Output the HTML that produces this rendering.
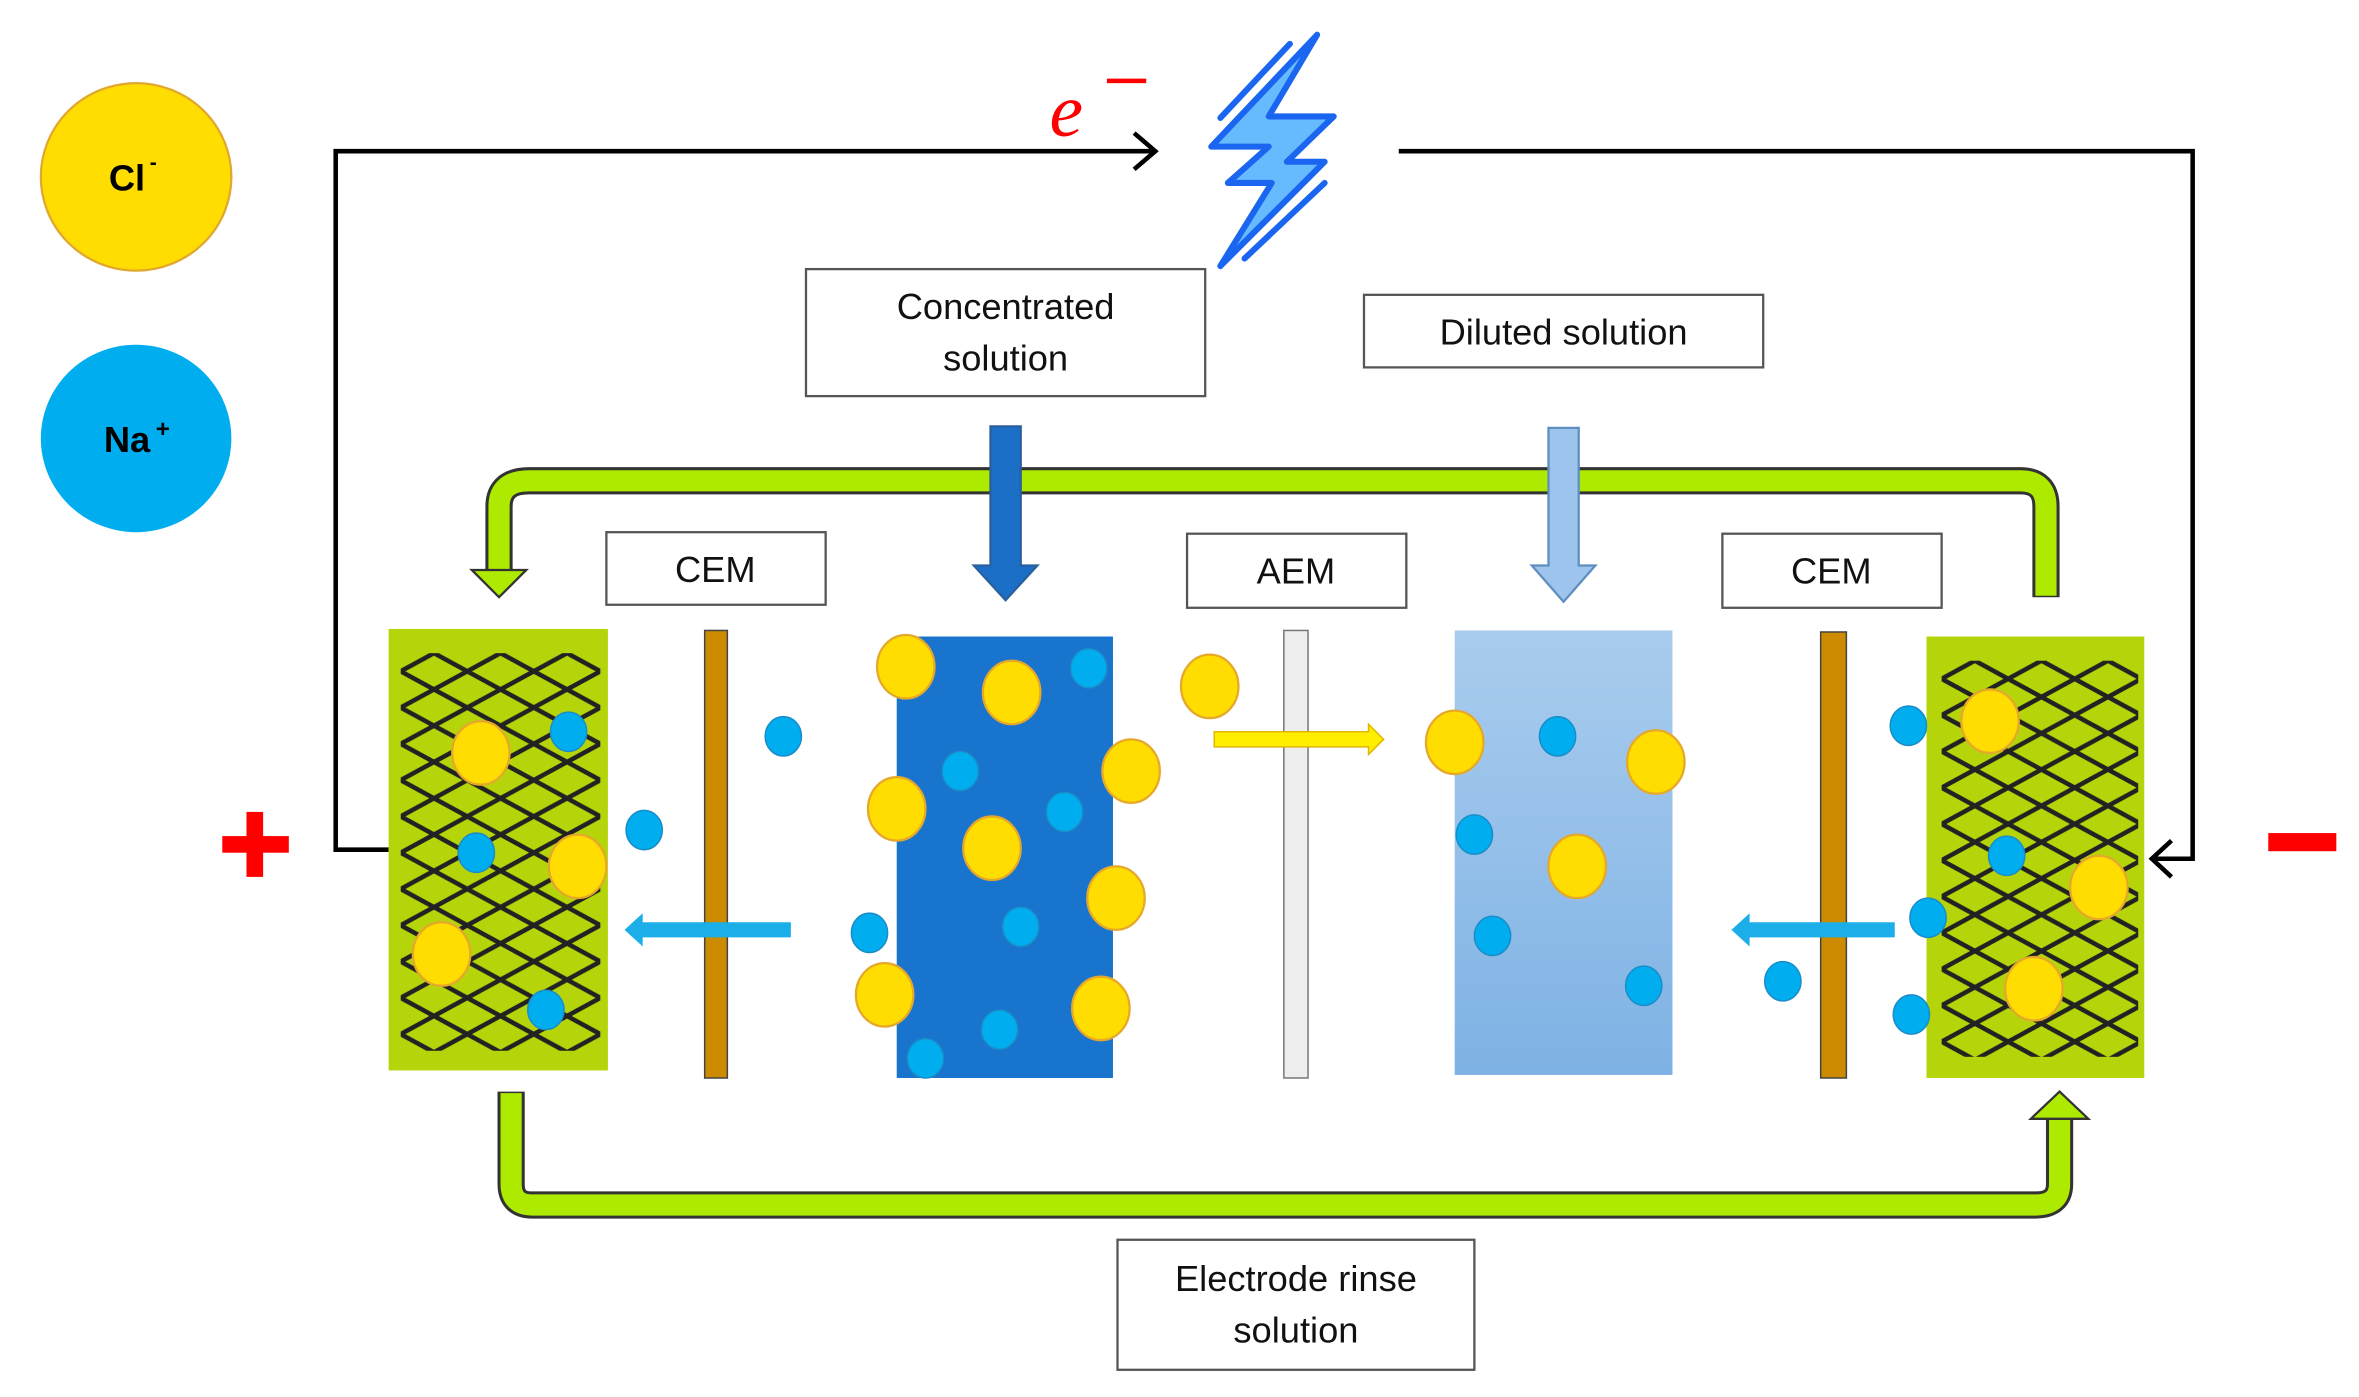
<!DOCTYPE html>
<html><head><style>html,body{margin:0;padding:0;background:#fff}svg{display:block}</style></head>
<body>
<svg width="2359" height="1397" viewBox="0 0 1560 924" preserveAspectRatio="none" xmlns="http://www.w3.org/2000/svg" font-family="Liberation Sans, sans-serif">
<defs>
<pattern id="mesh" x="265" y="432" width="44" height="24" patternUnits="userSpaceOnUse">
<path d="M0,12 L22,0 L44,12 L22,24 Z M0,12 L-22,0 M44,12 L66,0" fill="none" stroke="#222" stroke-width="3"/>
</pattern>
<pattern id="mesh2" x="1284" y="437" width="44" height="24" patternUnits="userSpaceOnUse">
<path d="M0,12 L22,0 L44,12 L22,24 Z" fill="none" stroke="#222" stroke-width="3"/>
</pattern>
<linearGradient id="lb" x1="0" y1="0" x2="0" y2="1"><stop offset="0" stop-color="#A9CCEE"/><stop offset="1" stop-color="#7EB2E4"/></linearGradient>
</defs>
<rect width="1560" height="924" fill="#fff"/>
<ellipse cx="90" cy="117" rx="63" ry="62" fill="#FFDD00" stroke="#E0A82E" stroke-width="1.5"/>
<text x="84" y="126" font-size="24" font-weight="bold" text-anchor="middle">Cl</text><text x="99" y="112" font-size="14" font-weight="bold">-</text>
<ellipse cx="90" cy="290" rx="63" ry="62" fill="#00AEEF"/>
<text x="84" y="299" font-size="24" font-weight="bold" text-anchor="middle">Na</text><text x="103" y="289" font-size="16" font-weight="bold">+</text>
<path d="M257,562 H222 V100 H762" fill="none" stroke="#000" stroke-width="3"/>
<path d="M750,88 L764,100 L750,112" fill="none" stroke="#000" stroke-width="3"/>
<path d="M925,100 H1450 V568 H1424" fill="none" stroke="#000" stroke-width="3"/>
<path d="M1436,556 L1423,568 L1436,580" fill="none" stroke="#000" stroke-width="3"/>
<text x="694" y="90" font-size="50" fill="#FF0000" font-style="italic" font-family="Liberation Serif, serif">e</text>
<rect x="732" y="52" width="26" height="3" fill="#FF0000"/>
<path d="M871,23 L801,97 L839,97 L812,121 L841,121 L807,176 L876,107 L851,107 L882,77 L839,77 Z" fill="#66BBFF" stroke="#1A66F0" stroke-width="4" stroke-linejoin="round"/>
<path d="M853,29 L807,78 M876,121 L823,171" stroke="#1A66F0" stroke-width="4" stroke-linecap="round"/>
<g fill="#fff" stroke="#555" stroke-width="1.5">
<rect x="533" y="178" width="264" height="84"/>
<rect x="902" y="195" width="264" height="48"/>
<rect x="401" y="352" width="145" height="48"/>
<rect x="785" y="353" width="145" height="49"/>
<rect x="1139" y="353" width="145" height="49"/>
<rect x="739" y="820" width="236" height="86"/>
</g>
<g font-size="24" text-anchor="middle" fill="#111">
<text x="665" y="211">Concentrated</text><text x="665" y="245">solution</text>
<text x="1034" y="228">Diluted solution</text>
<text x="473" y="385">CEM</text><text x="857" y="386">AEM</text><text x="1211" y="386">CEM</text>
<text x="857" y="854">Electrode rinse</text><text x="857" y="888">solution</text>
</g>
<path d="M330,378 V335 Q330,318 350,318 H1336 Q1353,318 1353,335 V395" fill="none" stroke="#333" stroke-width="18"/>
<path d="M330,380 V335 Q330,318 350,318 H1336 Q1353,318 1353,335 V394" fill="none" stroke="#AEEA00" stroke-width="14"/>
<path d="M312,377 L348,377 L330,395 Z" fill="#AEEA00" stroke="#333" stroke-width="1.5"/>
<path d="M338,722 V783 Q338,797 352,797 H1346 Q1362,797 1362,783 V738" fill="none" stroke="#333" stroke-width="18"/>
<path d="M338,723 V783 Q338,797 352,797 H1346 Q1362,797 1362,783 V736" fill="none" stroke="#AEEA00" stroke-width="14"/>
<path d="M1343,740 L1381,740 L1362,722 Z" fill="#AEEA00" stroke="#333" stroke-width="1.5"/>
<path d="M655,282 H675 V374 H686 L665,397 L644,374 H655 Z" fill="#1C6FC6" stroke="#2A5F9E" stroke-width="1.5"/>
<path d="M1024,283 H1044 V374 H1055 L1034,398 L1013,374 H1024 Z" fill="#9CC4EC" stroke="#5E8FC0" stroke-width="1.5"/>
<rect x="257" y="416" width="145" height="292" fill="#B5D50A"/>
<rect x="265" y="432" width="132" height="263" fill="url(#mesh)"/>
<rect x="1274" y="421" width="144" height="292" fill="#B5D50A"/>
<rect x="1284" y="437" width="130" height="262" fill="url(#mesh2)"/>
<rect x="466" y="417" width="15" height="296" fill="#CC8B00" stroke="#444" stroke-width="1"/>
<rect x="849" y="417" width="16" height="296" fill="#EEEEEE" stroke="#777" stroke-width="1"/>
<rect x="1204" y="418" width="17" height="295" fill="#CC8B00" stroke="#444" stroke-width="1"/>
<rect x="593" y="421" width="143" height="292" fill="#1874CD"/>
<rect x="962" y="417" width="144" height="294" fill="url(#lb)"/>
<path d="M803,484 H905 V479 L915,489 L905,499 V494 H803 Z" fill="#FFEE00" stroke="#E0B800" stroke-width="1"/>
<path d="M523,610 H425 V604 L413,615 L425,626 V620 H523 Z" fill="#1BAEE8"/>
<path d="M1253,610 H1157 V604 L1145,615 L1157,626 V620 H1253 Z" fill="#1BAEE8"/>
<g fill="#FFDD00" stroke="#E5A82A" stroke-width="1.5">
<ellipse cx="318" cy="498" rx="19" ry="21"/><ellipse cx="382" cy="573" rx="19" ry="21"/><ellipse cx="292" cy="631" rx="19" ry="21"/>
<ellipse cx="599" cy="441" rx="19" ry="21"/><ellipse cx="669" cy="458" rx="19" ry="21"/><ellipse cx="748" cy="510" rx="19" ry="21"/>
<ellipse cx="593" cy="535" rx="19" ry="21"/><ellipse cx="656" cy="561" rx="19" ry="21"/><ellipse cx="738" cy="594" rx="19" ry="21"/>
<ellipse cx="585" cy="658" rx="19" ry="21"/><ellipse cx="728" cy="667" rx="19" ry="21"/><ellipse cx="800" cy="454" rx="19" ry="21"/>
<ellipse cx="962" cy="491" rx="19" ry="21"/><ellipse cx="1095" cy="504" rx="19" ry="21"/><ellipse cx="1043" cy="573" rx="19" ry="21"/>
<ellipse cx="1316" cy="477" rx="19" ry="21"/><ellipse cx="1388" cy="587" rx="19" ry="21"/><ellipse cx="1345" cy="654" rx="19" ry="21"/>
</g>
<g fill="#00AEEF" stroke="#1A8CC8" stroke-width="1">
<ellipse cx="376" cy="484" rx="12" ry="13"/><ellipse cx="315" cy="564" rx="12" ry="13"/><ellipse cx="361" cy="668" rx="12" ry="13"/>
<ellipse cx="426" cy="549" rx="12" ry="13"/><ellipse cx="518" cy="487" rx="12" ry="13"/><ellipse cx="575" cy="617" rx="12" ry="13"/>
<ellipse cx="720" cy="442" rx="12" ry="13"/><ellipse cx="635" cy="510" rx="12" ry="13"/><ellipse cx="704" cy="537" rx="12" ry="13"/>
<ellipse cx="675" cy="613" rx="12" ry="13"/><ellipse cx="661" cy="681" rx="12" ry="13"/><ellipse cx="612" cy="700" rx="12" ry="13"/>
<ellipse cx="1030" cy="487" rx="12" ry="13"/><ellipse cx="975" cy="552" rx="12" ry="13"/><ellipse cx="987" cy="619" rx="12" ry="13"/><ellipse cx="1087" cy="652" rx="12" ry="13"/>
<ellipse cx="1262" cy="480" rx="12" ry="13"/><ellipse cx="1327" cy="566" rx="12" ry="13"/><ellipse cx="1275" cy="607" rx="12" ry="13"/>
<ellipse cx="1264" cy="671" rx="12" ry="13"/><ellipse cx="1179" cy="649" rx="12" ry="13"/>
</g>
<rect x="147" y="553" width="44" height="11" fill="#FF0000"/>
<rect x="163" y="537" width="11" height="43" fill="#FF0000"/>
<rect x="1500" y="551" width="45" height="12" fill="#FF0000"/>
</svg>
</body></html>
